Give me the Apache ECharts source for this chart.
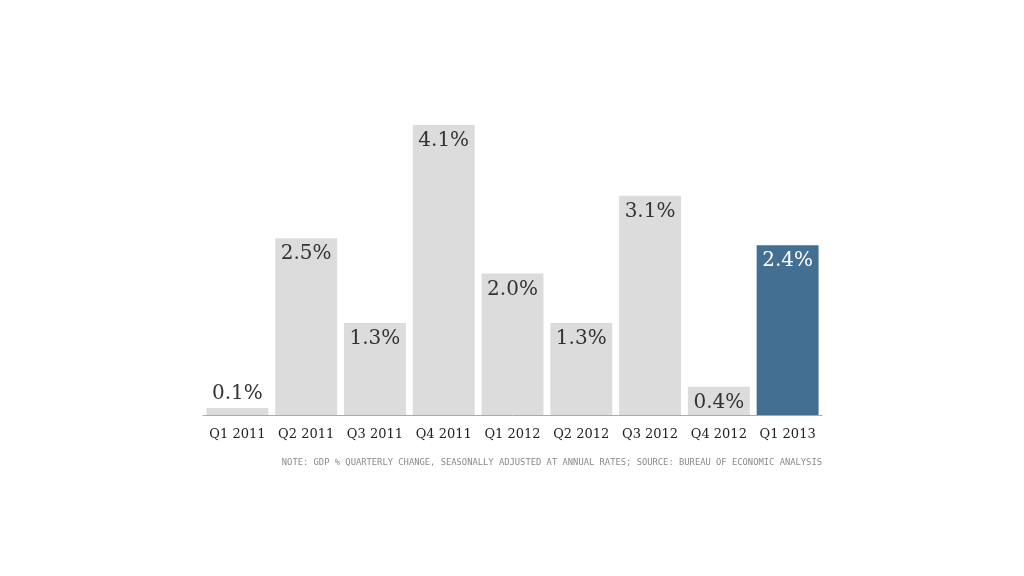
<!DOCTYPE html>
<html><head><meta charset="utf-8">
<script src="https://cdn.jsdelivr.net/npm/echarts@6/dist/echarts.min.js"></script>
<style>html,body{margin:0;padding:0;background:#fff}#c{width:1024px;height:576px}</style>
</head><body><div id="c"></div>
<script>
const categories = ['Q1 2011','Q2 2011','Q3 2011','Q4 2011','Q1 2012','Q2 2012','Q3 2012','Q4 2012','Q1 2013'];
const values = [0.1, 2.5, 1.3, 4.1, 2.0, 1.3, 3.1, 0.4, 2.4];
const note = 'NOTE: GDP % QUARTERLY CHANGE, SEASONALLY ADJUSTED AT ANNUAL RATES; SOURCE: BUREAU OF ECONOMIC ANALYSIS';

const serif = '"DejaVu Serif", "Liberation Serif", serif';
const chart = echarts.init(document.getElementById('c'));
chart.setOption({
  animation: false,
  grid: { left: 203, right: 202, top: 125, bottom: 161 },
  xAxis: {
    type: 'category', data: categories,
    axisLine: { lineStyle: { color: '#aaaaaa', width: 1 } },
    axisTick: { show: false },
    axisLabel: { interval: 0, color: '#222', fontFamily: serif, fontSize: 13, margin: 13 }
  },
  yAxis: { type: 'value', min: 0, max: 4.1, show: false, splitLine: { show: false } },
  series: [{
    type: 'bar', barCategoryGap: '10%',
    data: values.map((v, i) => {
      const last = i === values.length - 1;
      const item = { value: v, itemStyle: { color: last ? '#426f92' : '#dcdcdc' } };
      if (v < 0.2) item.label = { position: 'top', distance: 4 };
      if (last) item.label = { color: '#ffffff' };
      return item;
    }),
    label: {
      show: true, position: 'insideTop', distance: 6,
      color: '#333', fontFamily: serif, fontSize: 20,
      formatter: p => p.value.toFixed(1) + '%'
    }
  }],
  graphic: [{
    type: 'text', right: 202, top: 458,
    style: { text: note, fill: '#8a8a8a', font: '8.8px "DejaVu Sans Mono", monospace' }
  }]
});
</script></body></html>
